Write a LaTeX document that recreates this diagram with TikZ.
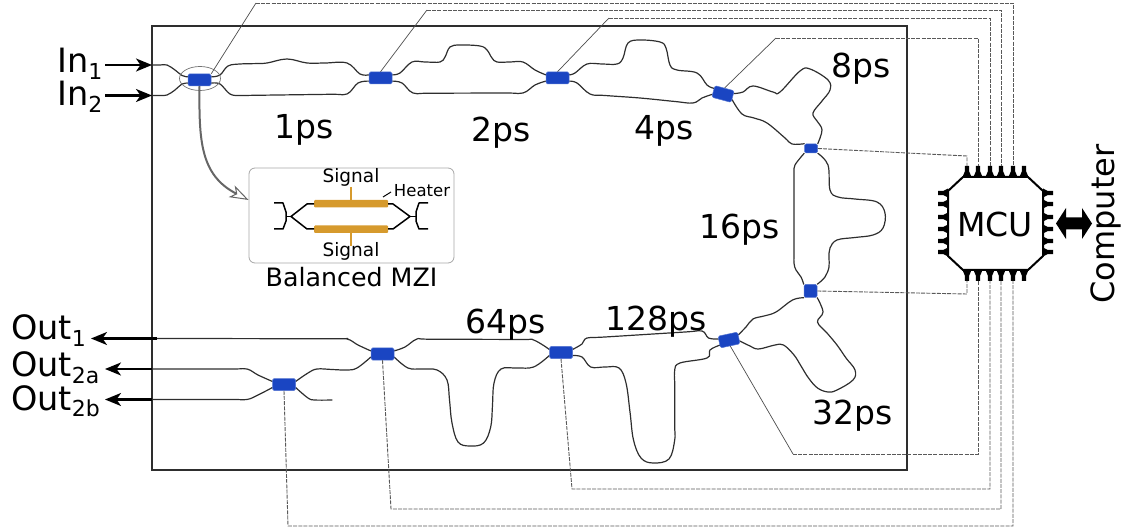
\documentclass[tikz,border=0pt]{standalone}
\usepackage{fontspec}
\setmainfont{DejaVu Sans}
\usetikzlibrary{arrows.meta,calc,shapes.geometric}
\pgfdeclarelayer{under}
\pgfsetlayers{under,main}
\definecolor{chipblue}{HTML}{1A45C2}
\definecolor{heat}{HTML}{D69A2D}
\definecolor{wg}{HTML}{2E2E2E}
\newcommand{\fs}[1]{\fontsize{#1}{#1}\selectfont}
\newcommand{\subs}[1]{\raisebox{-6.5pt}{\fs{22}#1}}
\newcommand{\ports}[1]{%
  \coordinate (#1lu) at ($(#1.north west)!.5!(#1.west)$);
  \coordinate (#1ll) at ($(#1.south west)!.5!(#1.west)$);
  \coordinate (#1ru) at ($(#1.north east)!.5!(#1.east)$);
  \coordinate (#1rl) at ($(#1.south east)!.5!(#1.east)$);}
\tikzset{
  coupler/.style={fill=chipblue,draw=chipblue!75!white,line width=.5pt,rounded corners=1.5pt,inner sep=0pt,minimum width=23pt,minimum height=12pt},
  guide/.style={draw=wg,line width=1.2pt,line cap=round,line join=round},
  tie/.style={draw=black!70,line width=.7pt},
  ctl/.style={draw=black!65,line width=.9pt,dash pattern=on 4pt off 1.2pt},
  lbl/.style={font=\fs{33},inner sep=0pt,anchor=center},
  port/.style={font=\fs{33.5},inner sep=0pt,anchor=base west},
  sig/.style={-{Stealth[length=16pt,width=13pt,inset=4.5pt]},line width=2.1pt,black},
  pinfill/.style={fill=black,draw=none},
  curve/.style={smooth,tension=.62},
}
\begin{document}
\begin{tikzpicture}[x=1pt,y=-1pt]
\useasboundingbox (0,0) rectangle (1122,529);
% couplers
\node[coupler] (A) at (199.5,80) {};
\node[coupler] (B) at (380.5,78) {};
\node[coupler] (C) at (557.5,78) {};
\node[coupler,minimum width=20pt,rotate=-15] (D) at (723,94) {};
\node[coupler,minimum width=13pt,minimum height=9pt] (E) at (811,148.5) {};
\node[coupler,minimum width=13pt,minimum height=13pt] (F) at (810.5,291) {};
\node[coupler,minimum width=20pt,rotate=12] (G) at (729,340) {};
\node[coupler] (H) at (561,352.5) {};
\node[coupler] (I) at (382.5,354) {};
\node[coupler] (J) at (284,384.5) {};
\ports{A}\ports{B}\ports{C}\ports{D}\ports{G}\ports{H}\ports{I}\ports{J}
% free ends
\coordinate (in1) at (152,65);
\coordinate (in2) at (152,95.5);
\coordinate (o1) at (157,338.5);
\coordinate (o2a) at (152,369);
\coordinate (o2b) at (152,399.5);
\coordinate (stub) at (332,400);
\begin{pgfonlayer}{under}
\draw[wg,line width=1.7pt] (152,26) rectangle (907,470);
\draw[guide] plot[curve] coordinates {(in1) (160,65) (167,65) (175,70) (182,75.5) (Alu)};
\draw[guide] plot[curve] coordinates {(in2) (160,95.5) (167,95) (175,90) (182,84) (All)};
\draw[guide] plot[curve] coordinates {(Aru) (220,75) (228,66) (240,64) (255,63.6) (267,63) (287,59) (307,63) (325,63) (347,63) (360,74) (Blu)};
\draw[guide] plot[curve] coordinates {(Arl) (220,84) (230,94) (240,95.5) (255,95.3) (330,94.3) (347,94) (358,83) (Bll)};
\draw[guide] plot[curve] coordinates {(Bru) (400,73) (412,62) (425,62) (440,62) (445,57) (450,47) (460,45) (480,46) (487,50) (492,58) (497,62) (510,62) (523,62) (535,70) (Clu)};
\draw[guide] plot[curve] coordinates {(Brl) (402,83) (413,93) (430,93.2) (505,93) (523,93) (535,85) (Cll)};
\draw[guide] plot[curve] coordinates {(Cru) (575,73) (587,64) (602,64) (617,64) (623,58) (628,43) (640,40) (660,42) (666,48) (670,65) (677,70) (697,73) (707,85) (Dlu)};
\draw[guide] plot[curve] coordinates {(Crl) (577,83) (590,94) (605,95.5) (640,98) (675,101.5) (693,103) (702,98) (Dll)};
\draw[guide] plot[curve] coordinates {(Dru) (743,92) (753,86) (773,92) (780,92) (800,71) (810,69) (828,80) (830,90) (822,101) (813,113) (817,121) (822,130) (E.north east)};
\draw[guide] plot[curve] coordinates {(Drl) (742,114) (754,118) (767,123) (785,138) (792,144) (E.north west)};
\draw[guide] plot[curve] coordinates {(E.south west) (795,165) (794,173) (794,188) (794,250) (794,263) (796,270) (801,277) (F.north west)};
\draw[guide] plot[curve] coordinates {(E.south east) (828,165) (830,190) (838,197) (855,199) (877,202) (885,213) (883,228) (873,235) (855,237.5) (837,240) (830,248) (829,258) (829,267) (825,277) (F.north east)};
\draw[guide] plot[curve] coordinates {(F.south west) (792.5,300) (776,312) (764,316) (753,319) (746,327) (Gru)};
\draw[guide] plot[curve] coordinates {(F.south east) (823,312) (817.5,322) (827,333) (837,345) (846,358) (855,370) (853,380) (837,390) (828,392) (817.5,388) (808.5,378) (801,366) (794,355) (783.5,345) (775,345) (758.5,349) (750,346) (Grl)};
\draw[guide] plot[curve] coordinates {(Glu) (708.5,338) (702,331) (685,332) (605,337) (587,338) (582,344) (Hru)};
\draw[guide] plot[curve] coordinates {(Gll) (710,350) (707,358) (680,363) (674.7,370) (674.7,385) (674.7,425) (674.7,440) (669,459) (653,463) (641,458) (633.5,440) (630,412) (626,383) (619,368) (605,367) (590.7,367) (582,357) (Hrl)};
\draw[guide] plot[curve] coordinates {(Hlu) (533.6,340) (520,339.5) (430,339.2) (417,339) (405,347) (Iru)};
\draw[guide] plot[curve] coordinates {(Hll) (533.6,367) (517,368) (501,369) (494,383) (492.5,405) (490.7,427) (483.6,443) (470,446) (458,442) (452,423) (449.5,400) (447,380) (437,370) (422,369) (408,368) (Irl)};
\draw[guide] plot[curve] coordinates {(Ilu) (358,345) (347,339) (330,338.8) (175,338.5) (o1)};
\draw[guide] plot[curve] coordinates {(Ill) (357,368) (347,370) (332,369.5) (317,369) (308,373) (Jru)};
\draw[guide] plot[curve] coordinates {(Jlu) (258,375) (247,369) (232,369) (168,369) (o2a)};
\draw[guide] plot[curve] coordinates {(Jll) (258,395) (247,399.5) (232,399.5) (168,399.5) (o2b)};
\draw[guide] plot[curve] coordinates {(Jrl) (308,398) (315,400) (stub)};
\end{pgfonlayer}
\node[ellipse,draw=black!55,line width=.7pt,minimum width=41pt,minimum height=24pt,inner sep=0pt] (ring) at (200,78.5) {};
% MCU
\draw[black,fill=white,line width=2pt,line join=round] (963,177) -- (1028,177) -- (1043,191) -- (1043,256) -- (1028,270) -- (963,270) -- (948,256) -- (948,191) -- cycle;
\node[lbl] (mcu) at (995,224.5) {MCU};
\foreach \x in {967,978,990,1001,1013,1024} {
  \fill[pinfill] (\x-4.5,177) -- (\x-2.2,171.5) -- (\x-2.2,166) -- (\x+2.2,166) -- (\x+2.2,171.5) -- (\x+4.5,177) -- cycle;
  \fill[pinfill] (\x-4.5,270) -- (\x-2.2,275.5) -- (\x-2.2,281) -- (\x+2.2,281) -- (\x+2.2,275.5) -- (\x+4.5,270) -- cycle;}
\foreach \y in {193,204,217,229,241,252} {
  \fill[pinfill] (948,\y-4.5) -- (943.5,\y-2.2) -- (938,\y-2.2) -- (938,\y+2.2) -- (943.5,\y+2.2) -- (948,\y+4.5) -- cycle;
  \fill[pinfill] (1043,\y-4.5) -- (1047.5,\y-2.2) -- (1053,\y-2.2) -- (1053,\y+2.2) -- (1047.5,\y+2.2) -- (1043,\y+4.5) -- cycle;}
\foreach \n/\x in {1/967,2/978,3/990,4/1001,5/1013} {
  \coordinate (t\n) at (\x,166);
  \coordinate (b\n) at (\x,281);}
% control lines
\draw[tie] (A.north east) -- (256,3);
\draw[ctl] (256,3) -| (t5);
\draw[tie] (B.north) -- (427,10);
\draw[ctl] (427,10) -| (t4);
\draw[tie] (C.north) -- (609,18);
\draw[ctl] (609,18) -| (t3);
\draw[tie] (D.north) -- (776,38);
\draw[ctl] (776,38) -| (t2);
\draw[ctl] (E.east) -- (967,156) -- (t1);
\draw[ctl] (F.east) -- (967,294) -- (b1);
\draw[tie] (G.south) -- (793,454);
\draw[ctl] (793,454) -| (b2);
\draw[ctl] (H.south) -- (572,489) -| (b3);
\draw[ctl] (I.south) -- (391,509) -| (b4);
\draw[ctl] (J.south) -- (288,526) -| (b5);
% computer link
\fill[black] (1056,223.5) -- (1066,208) -- (1066,217.5) -- (1082,217.5) -- (1082,208) -- (1092,223.5) -- (1082,239) -- (1082,229.5) -- (1066,229.5) -- (1066,239) -- cycle;
\node[lbl,font=\fs{32},rotate=90] (comp) at (1105.5,224) {Computer};
% ports
\coordinate (in1s) at (105,65);
\coordinate (in2s) at (105,95.5);
\coordinate (o1e) at (91,338.5);
\coordinate (o2ae) at (105,369);
\coordinate (o2be) at (105,399.5);
\draw[sig] (in1s) -- (in1);
\draw[sig] (in2s) -- (in2);
\draw[sig] (o1) -- (o1e);
\draw[sig] (o2a) -- (o2ae);
\draw[sig] (o2b) -- (o2be);
\node[port] (lin1) at (57,73) {In\subs{1}};
\node[port] (lin2) at (57,106) {In\subs{2}};
\node[port] (lo1) at (11,340) {Out\subs{1}};
\node[port] (lo2a) at (11,377) {Out\subs{2a}};
\node[port] (lo2b) at (11,410) {Out\subs{2b}};
% delay labels
\node[lbl] (d1) at (304,130) {1ps};
\node[lbl] (d2) at (501,133) {2ps};
\node[lbl] (d4) at (664,131) {4ps};
\node[lbl] (d8) at (861,69) {8ps};
\node[lbl] (d16) at (740,230) {16ps};
\node[lbl] (d32) at (853,416) {32ps};
\node[lbl] (d64) at (506,325) {64ps};
\node[lbl] (d128) at (656,322) {128ps};
% inset
\node[draw=black!35,line width=.8pt,rounded corners=6pt,minimum width=205pt,minimum height=95pt,inner sep=0pt] (inset) at (351.5,215.5) {};
\coordinate (insetin) at (inset.west |- 0,200);
\draw[black!60,line width=2pt,-{Stealth[open,fill=white,length=19pt,width=13pt,inset=5pt,line width=1pt]}] (A.south) .. controls (199,140) and (200,175) .. (insetin);
\draw[heat,line width=1.6pt] (351,187) -- (351,200) (351,233) -- (351,246);
\fill[heat,rounded corners=1pt] (314,200) rectangle (388,207.5);
\fill[heat,rounded corners=1pt] (314,225.5) rectangle (388,233);
\draw[black,line width=1.5pt,line join=round] (274,203) -- (283,203) -- (286,212) -- (286,221) -- (283,229) -- (274,229);
\draw[black,line width=1.5pt,line join=round] (314,204) -- (307,204) -- (291,216.5) -- (307,229) -- (314,229);
\draw[black,line width=1.5pt] (286,216.5) -- (291,216.5);
\draw[black,line width=1.5pt,line join=round] (388,204) -- (393,204) -- (410,216.5) -- (393,229) -- (388,229);
\draw[black,line width=1.5pt] (410,216.5) -- (416,216.5);
\draw[black,line width=1.5pt,line join=round] (428,203) -- (419,203) -- (416,212) -- (416,221) -- (419,229) -- (428,229);
\draw[black,line width=1pt] (383,197) -- (391,192);
\node[font=\fs{18.5},inner sep=0pt] (s1) at (351,177) {Signal};
\node[font=\fs{18.5},inner sep=0pt] (s2) at (351,251) {Signal};
\node[font=\fs{16.5},inner sep=0pt] (ht) at (422,191) {Heater};
\node[font=\fs{25.3},inner sep=0pt] (bm) at (351.5,277) {Balanced MZI};
\end{tikzpicture}
\end{document}
